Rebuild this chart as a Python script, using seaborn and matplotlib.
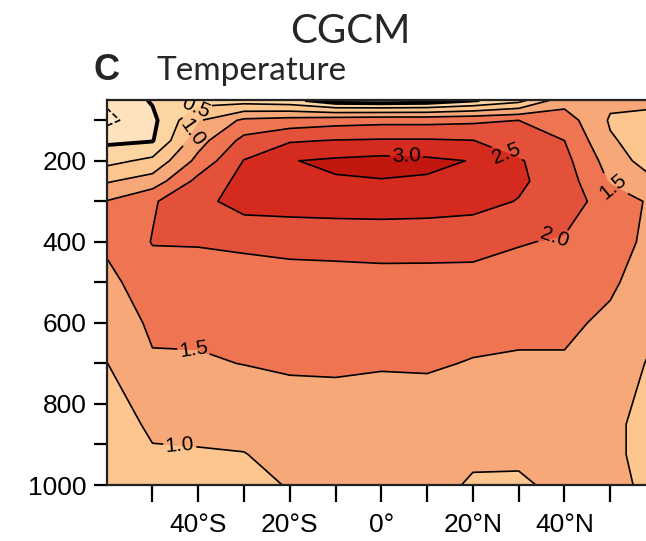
import numpy as np
import seaborn as sns
import matplotlib.pyplot as plt

sns.set_style("ticks")
plt.rcParams['font.family'] = ['Liberation Sans', 'DejaVu Sans']

# grid of the section (latitude, pressure)
lat = [-60, -50, -40, -30, -20, -10, 0, 10, 20, 30, 40, 50, 60]
plev = [50, 100, 150, 200, 250, 300, 400, 500, 600, 700, 850, 925, 1000]

# temperature change at each level, one value per latitude
t50 = [-0.4, 0.05, 0.3, 0.25, 0.15, -0.3, -0.35, -0.3, -0.05, 0.3, 1.3, 1.1, 1.15]
t100 = [-0.65, -0.12, 0.95, 1.6, 1.7, 1.8, 1.85, 1.85, 1.9, 2.0, 1.75, 0.95, 0.8]
t150 = [-0.1, -0.03, 1.3, 2.15, 2.45, 2.52, 2.55, 2.55, 2.51, 2.2, 2.0, 1.05, 0.75]
t200 = [0.35, 0.62, 1.65, 2.52, 2.98, 3.08, 3.15, 3.1, 2.98, 2.55, 2.15, 1.28, 0.7]
t250 = [0.95, 1.22, 2.15, 2.65, 2.85, 2.96, 2.98, 2.95, 2.85, 2.58, 2.25, 1.45, 1.03]
t300 = [1.52, 1.95, 2.35, 2.7, 2.72, 2.72, 2.7, 2.7, 2.65, 2.48, 2.25, 1.75, 1.4]
t400 = [1.6, 2.02, 2.03, 2.1, 2.15, 2.2, 2.25, 2.22, 2.2, 2.03, 1.95, 1.7, 1.35]
t500 = [1.35, 1.8, 1.8, 1.75, 1.8, 1.78, 1.78, 1.8, 1.8, 1.8, 1.8, 1.58, 1.2]
t600 = [1.2, 1.58, 1.6, 1.62, 1.65, 1.65, 1.65, 1.65, 1.62, 1.6, 1.6, 1.4, 1.05]
t700 = [0.99, 1.45, 1.45, 1.51, 1.56, 1.56, 1.53, 1.54, 1.48, 1.45, 1.45, 1.3, 0.9]
t850 = [0.85, 1.05, 1.06, 1.1, 1.25, 1.3, 1.3, 1.3, 1.28, 1.3, 1.25, 1.08, 0.85]
t925 = [0.8, 0.97, 0.98, 0.99, 1.1, 1.2, 1.18, 1.2, 1.07, 1.07, 1.15, 1.08, 0.85]
t1000 = [0.75, 0.9, 0.92, 0.95, 1.01, 1.1, 1.12, 1.15, 0.95, 0.94, 1.1, 1.05, 0.95]

temp = np.array([t50, t100, t150, t200, t250, t300, t400, t500, t600,
                 t700, t850, t925, t1000])

levels = [-0.5, 0, 0.5, 1.0, 1.5, 2.0, 2.5, 3.0]
fill_colors = ["#fee8cc", "#fde2bd", "#fdd5a3", "#fcc68e", "#f7a878",
               "#ef7552", "#e4513a", "#d42b1e", "#c2170f"]

fig = plt.figure(figsize=(6.46, 5.41), dpi=100)
ax = fig.add_axes([0.1652, 0.1035, 0.8503, 0.7116])

ax.contourf(lat, plev, temp, levels=[-9] + levels + [9], colors=fill_colors)
widths = [1.2, 2.8, 1.2, 1.2, 1.2, 1.2, 1.2, 1.2]
cs = ax.contour(lat, plev, temp, levels=levels, colors="k", linewidths=widths)

# one label per line, near where the reference puts it
label_spots = [(-41, 62), (-42, 125), (5.5, 186), (27.5, 178), (37.5, 378),
               (50, 277), (-41, 674), (-44, 897)]
ax.clabel(cs, fmt="%.1f", fontsize=15, inline=True,
          inline_spacing=2, manual=label_spots)

ax.set_xlim(-60, 60)
ax.set_ylim(1000, 50)

xt = list(range(-50, 51, 10))
xl = {-40: "40°S", -20: "20°S", 0: "0°", 20: "20°N", 40: "40°N"}
ax.set_xticks(xt)
ax.set_xticklabels([xl.get(v, "") for v in xt])
yt = list(range(100, 1001, 100))
ax.set_yticks(yt)
ax.set_yticklabels([str(v) if v % 200 == 0 else "" for v in yt])
ax.tick_params(direction="out", width=1.6, labelsize=19,
               color="black", labelcolor="black")
ax.tick_params(axis="y", length=9.5, pad=5)
ax.tick_params(axis="x", length=12, pad=8)
for s in ax.spines.values():
    s.set_linewidth(1.6)
    s.set_color("#222222")
ax.set_xlabel("")
ax.set_ylabel("")

fig.text(0.542, 0.92, "CGCM", ha="center", va="baseline", fontsize=29,
         family=["Lato", "DejaVu Sans"])
fig.text(0.145, 0.852, "C", ha="left", va="baseline", fontsize=26,
         fontweight="bold")
fig.text(0.243, 0.852, "Temperature", ha="left", va="baseline", fontsize=24,
         family=["Lato", "DejaVu Sans"])

plt.savefig("out.png", dpi=100)
